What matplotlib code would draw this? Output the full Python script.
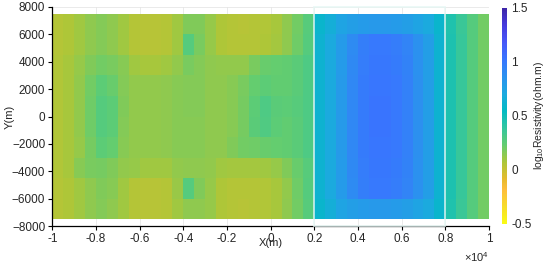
import numpy as np
import matplotlib
matplotlib.use("Agg")
import matplotlib.pyplot as plt
from matplotlib.colors import LinearSegmentedColormap
from matplotlib.patches import Rectangle

# === Data: log10 resistivity, rows from top (y=7500) to bottom (y=-7500), 40 columns of 500 m ===
x_edges = np.arange(-10000, 10001, 500)
y_edges = np.arange(7500, -7501, -1500)

row0 = [0.05, 0.07, 0.10, 0.14, 0.16, 0.14, 0.10, 0.05, 0.04, 0.04, 0.05, 0.10,
        0.17, 0.17, 0.12, 0.07, 0.05, 0.04, 0.05, 0.06, 0.08, 0.14, 0.20, 0.27,
        0.60, 0.66, 0.74, 0.78, 0.80, 0.82, 0.82, 0.80, 0.78, 0.74, 0.70, 0.60,
        0.45, 0.36, 0.28, 0.20]
row1 = [0.05, 0.07, 0.10, 0.14, 0.16, 0.14, 0.10, 0.05, 0.04, 0.04, 0.05, 0.10,
        0.28, 0.18, 0.12, 0.07, 0.05, 0.05, 0.05, 0.07, 0.09, 0.14, 0.21, 0.28,
        0.62, 0.70, 0.80, 0.90, 0.97, 1.00, 1.00, 0.98, 0.94, 0.86, 0.78, 0.62,
        0.46, 0.37, 0.28, 0.20]
row2 = [0.06, 0.08, 0.12, 0.17, 0.20, 0.18, 0.15, 0.10, 0.08, 0.08, 0.10, 0.13,
        0.18, 0.16, 0.14, 0.13, 0.13, 0.13, 0.18, 0.22, 0.23, 0.24, 0.26, 0.30,
        0.62, 0.70, 0.80, 0.91, 0.98, 1.01, 1.01, 0.99, 0.95, 0.86, 0.78, 0.62,
        0.46, 0.37, 0.28, 0.20]
row3 = [0.06, 0.08, 0.13, 0.20, 0.25, 0.22, 0.16, 0.13, 0.13, 0.13, 0.14, 0.15,
        0.16, 0.16, 0.14, 0.14, 0.15, 0.18, 0.23, 0.25, 0.24, 0.24, 0.26, 0.30,
        0.62, 0.70, 0.81, 0.92, 0.99, 1.02, 1.02, 1.00, 0.96, 0.87, 0.78, 0.62,
        0.46, 0.37, 0.28, 0.20]
row4 = [0.06, 0.08, 0.13, 0.21, 0.28, 0.25, 0.17, 0.13, 0.13, 0.13, 0.14, 0.15,
        0.16, 0.16, 0.14, 0.14, 0.15, 0.19, 0.25, 0.30, 0.26, 0.25, 0.27, 0.30,
        0.62, 0.70, 0.81, 0.92, 0.99, 1.03, 1.03, 1.00, 0.96, 0.87, 0.78, 0.62,
        0.46, 0.37, 0.28, 0.20]
row5 = [0.06, 0.08, 0.13, 0.21, 0.28, 0.25, 0.16, 0.13, 0.13, 0.13, 0.14, 0.15,
        0.15, 0.15, 0.14, 0.14, 0.15, 0.19, 0.26, 0.29, 0.25, 0.24, 0.26, 0.30,
        0.62, 0.70, 0.81, 0.92, 0.99, 1.03, 1.03, 1.00, 0.96, 0.87, 0.78, 0.62,
        0.46, 0.37, 0.28, 0.20]
row6 = [0.06, 0.08, 0.12, 0.19, 0.25, 0.23, 0.15, 0.13, 0.13, 0.13, 0.14, 0.15,
        0.15, 0.15, 0.14, 0.14, 0.17, 0.20, 0.21, 0.22, 0.23, 0.24, 0.26, 0.30,
        0.62, 0.70, 0.81, 0.92, 0.99, 1.02, 1.02, 1.00, 0.96, 0.87, 0.78, 0.62,
        0.46, 0.37, 0.28, 0.20]
row7 = [0.06, 0.08, 0.15, 0.18, 0.19, 0.17, 0.13, 0.12, 0.10, 0.10, 0.10, 0.13,
        0.14, 0.14, 0.13, 0.10, 0.09, 0.09, 0.09, 0.10, 0.12, 0.17, 0.22, 0.27,
        0.62, 0.70, 0.80, 0.91, 0.98, 1.01, 1.01, 0.99, 0.95, 0.86, 0.78, 0.62,
        0.46, 0.37, 0.28, 0.20]
row8 = [0.05, 0.07, 0.10, 0.14, 0.17, 0.15, 0.10, 0.05, 0.04, 0.04, 0.05, 0.11,
        0.28, 0.17, 0.12, 0.07, 0.05, 0.05, 0.05, 0.06, 0.08, 0.13, 0.21, 0.28,
        0.62, 0.70, 0.80, 0.90, 0.97, 1.00, 1.00, 0.98, 0.94, 0.86, 0.78, 0.62,
        0.46, 0.37, 0.28, 0.20]
row9 = [0.05, 0.07, 0.10, 0.14, 0.16, 0.14, 0.10, 0.05, 0.04, 0.04, 0.05, 0.10,
        0.14, 0.14, 0.12, 0.07, 0.05, 0.04, 0.05, 0.06, 0.08, 0.14, 0.20, 0.27,
        0.60, 0.66, 0.74, 0.78, 0.80, 0.82, 0.82, 0.80, 0.78, 0.74, 0.70, 0.60,
        0.45, 0.36, 0.28, 0.20]
log_rho = np.array([row0, row1, row2, row3, row4, row5, row6, row7, row8, row9])

x_ticks = np.arange(-10000, 10001, 2000)
x_tick_labels = ["-1", "-0.8", "-0.6", "-0.4", "-0.2", "0", "0.2", "0.4", "0.6", "0.8", "1"]
y_ticks = np.arange(-8000, 8001, 2000)
cbar_ticks = [-0.5, 0, 0.5, 1, 1.5]
cbar_labels = ["-0.5", "0", "0.5", "1", "1.5"]

# === Colormap: parula, flipped (yellow = low, dark blue = high) ===
parula_pts = [
    (0.2422, 0.1504, 0.6603), (0.2751, 0.2342, 0.8710), (0.2795, 0.3447, 0.9717),
    (0.2206, 0.4603, 0.9973), (0.1687, 0.5703, 0.9359), (0.1113, 0.6635, 0.8763),
    (0.0067, 0.7312, 0.7660), (0.1938, 0.7758, 0.6251), (0.3909, 0.8029, 0.4354),
    (0.6720, 0.7793, 0.2227), (0.9035, 0.7330, 0.1774), (0.9956, 0.7434, 0.2371),
    (0.9676, 0.8639, 0.1643), (0.9769, 0.9839, 0.0805)]
parula_pos = [0, 5, 10, 15, 20, 25, 30, 35, 40, 45, 50, 53, 58, 63]
cmap = LinearSegmentedColormap.from_list(
    "parula_r", [(1 - p / 63, c) for p, c in zip(parula_pos, parula_pts)][::-1])

plt.rcParams['font.family'] = 'Liberation Sans'
plt.rcParams['font.size'] = 8.5
plt.rcParams['mathtext.fontset'] = 'custom'
plt.rcParams['mathtext.rm'] = 'Liberation Sans'
dark = (0.15, 0.15, 0.15)

fig = plt.figure(figsize=(5.5, 2.66), dpi=100)
ax = fig.add_axes([0.095, 0.150, 0.794, 0.824])
cax = fig.add_axes([0.913, 0.158, 0.0095, 0.812])

mesh = ax.pcolormesh(x_edges, y_edges, log_rho, cmap=cmap, vmin=-0.5, vmax=1.5,
                     shading='flat', zorder=1)
ax.add_patch(Rectangle((2000, -8000), 6000, 16000, fill=False,
                       edgecolor=(0.9, 0.97, 0.96), alpha=0.8, lw=1.3,
                       zorder=3, clip_on=False))

ax.set_xlim(-10000, 10000)
ax.set_ylim(-8000, 8000)
ax.set_xticks(x_ticks)
ax.set_xticklabels(x_tick_labels)
ax.set_yticks(y_ticks)
ax.set_axisbelow(True)
ax.grid(True, color=(0.9, 0.9, 0.9), lw=0.6)
for s in ['top', 'right']:
    ax.spines[s].set_visible(False)
for s in ['left', 'bottom']:
    ax.spines[s].set_color('black')
    ax.spines[s].set_linewidth(0.9)
ax.tick_params(direction='out', length=3, width=0.8, colors='black',
               labelcolor=dark, pad=2)

ax.set_xlabel("X(m)", color=dark, va='top', fontsize=8)
ax.xaxis.set_label_coords(0.5, -0.055)
ax.set_ylabel("Y(m)", color=dark, fontsize=8)
ax.yaxis.set_label_coords(-0.085, 0.5)
ax.annotate(r"$\times$10$^4$", xy=(1, -0.11), xycoords='axes fraction',
            ha='right', va='top', color=dark, fontsize=8)

cb = fig.colorbar(mesh, cax=cax, ticks=cbar_ticks)
cb.ax.set_yticklabels(cbar_labels)
cb.outline.set_visible(False)
cb.ax.tick_params(length=0, pad=3, labelcolor=dark)
cb.set_label(r"log$_{10}$Resistivity(ohm.m)", color=dark, labelpad=0, fontsize=7.5)

fig.savefig("out.png", dpi=100)
